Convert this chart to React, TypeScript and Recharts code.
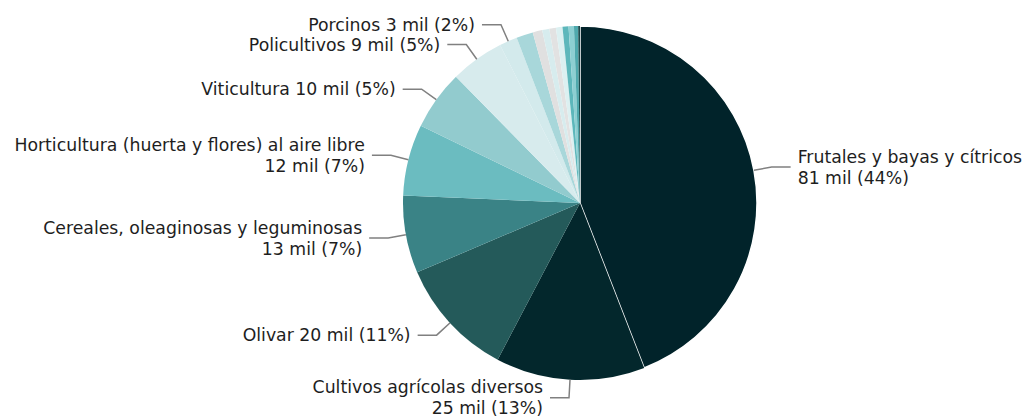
import React from 'react';
import { PieChart, Pie, Cell } from 'recharts';

// Farm counts by orientation (thousands), clockwise from 12 o'clock
const categories = [
  'Frutales y bayas y cítricos',
  'Cultivos agrícolas diversos',
  'Olivar',
  'Cereales, oleaginosas y leguminosas',
  'Horticultura (huerta y flores) al aire libre',
  'Viticultura',
  'Policultivos',
  'Porcinos',
  'Otros',
  'Otros',
  'Otros',
  'Otros',
  'Otros',
  'Otros',
  'Otros',
  'Otros',
  'Otros',
];
const values = [81, 25, 20, 13, 12, 10, 9, 3, 2.8, 1.6, 1.2, 1.1, 1.1, 1.0, 0.9, 0.7, 0.3];
// shares shown in the labels (only the labelled slices)
const percents = [44, 13, 11, 7, 7, 5, 5, 2];
const colors = [
  '#01232a',
  '#03272c',
  '#245a5a',
  '#3a8386',
  '#6bbcc0',
  '#92cbce',
  '#d7ebed',
  '#d3eaec',
  '#a8d7da',
  '#e0e0e0',
  '#d7ecee',
  '#e2e2e2',
  '#dcf0f1',
  '#5db7bb',
  '#8dcfd2',
  '#4fa9ad',
  '#1d4a4c',
];

const data = categories.map((name, i) => ({ name, value: values[i] }));

const RAD = Math.PI / 180;
const FONT = "'DejaVu Sans', sans-serif";

const renderLabel = (props: any) => {
  const { cx, cy, midAngle, outerRadius, index } = props;
  if (index >= percents.length) return null;
  const cos = Math.cos(-midAngle * RAD);
  const sin = Math.sin(-midAngle * RAD);
  const sx = cx + outerRadius * cos;
  const sy = cy + outerRadius * sin;
  const mx = cx + (outerRadius + 18) * cos;
  const my = cy + (outerRadius + 18) * sin;
  const right = cos >= 0;
  const ex = mx + (right ? 19 : -19);
  const tx = ex + (right ? 7 : -7);
  const name = categories[index];
  const amount = `${values[index]} mil (${percents[index]}%)`;
  const lines = name.length > 15 ? [name, amount] : [`${name} ${amount}`];
  const start = my - ((lines.length - 1) * 21) / 2;
  return (
    <g>
      <polyline
        points={`${sx},${sy} ${mx},${my} ${ex},${my}`}
        fill="none"
        stroke="#808080"
        strokeWidth={1.5}
      />
      <text
        x={tx}
        y={start}
        textAnchor={right ? 'start' : 'end'}
        fill="#1e1e1e"
        fontSize={17.3}
        fontFamily={FONT}
      >
        {lines.map((l, i) => (
          <tspan key={i} x={tx} y={start + i * 21} dy="0.35em">
            {l}
          </tspan>
        ))}
      </text>
    </g>
  );
};

export default function App() {
  return (
    <div style={{ position: 'absolute', left: 0, top: 0, background: '#fff' }}>
      <PieChart width={1027} height={419} margin={{ top: 0, right: 0, bottom: 0, left: 0 }}>
        <Pie
          data={data}
          dataKey="value"
          nameKey="name"
          cx={580}
          cy={203}
          outerRadius={177}
          startAngle={90}
          endAngle={-270}
          stroke="none"
          label={renderLabel}
          labelLine={false}
          isAnimationActive={false}
        >
          {data.map((d, i) => (
            <Cell
              key={i}
              fill={colors[i]}
              stroke={i === 0 ? '#ffffff' : 'none'}
              strokeWidth={i === 0 ? 1.5 : 0}
            />
          ))}
        </Pie>
      </PieChart>
    </div>
  );
}
